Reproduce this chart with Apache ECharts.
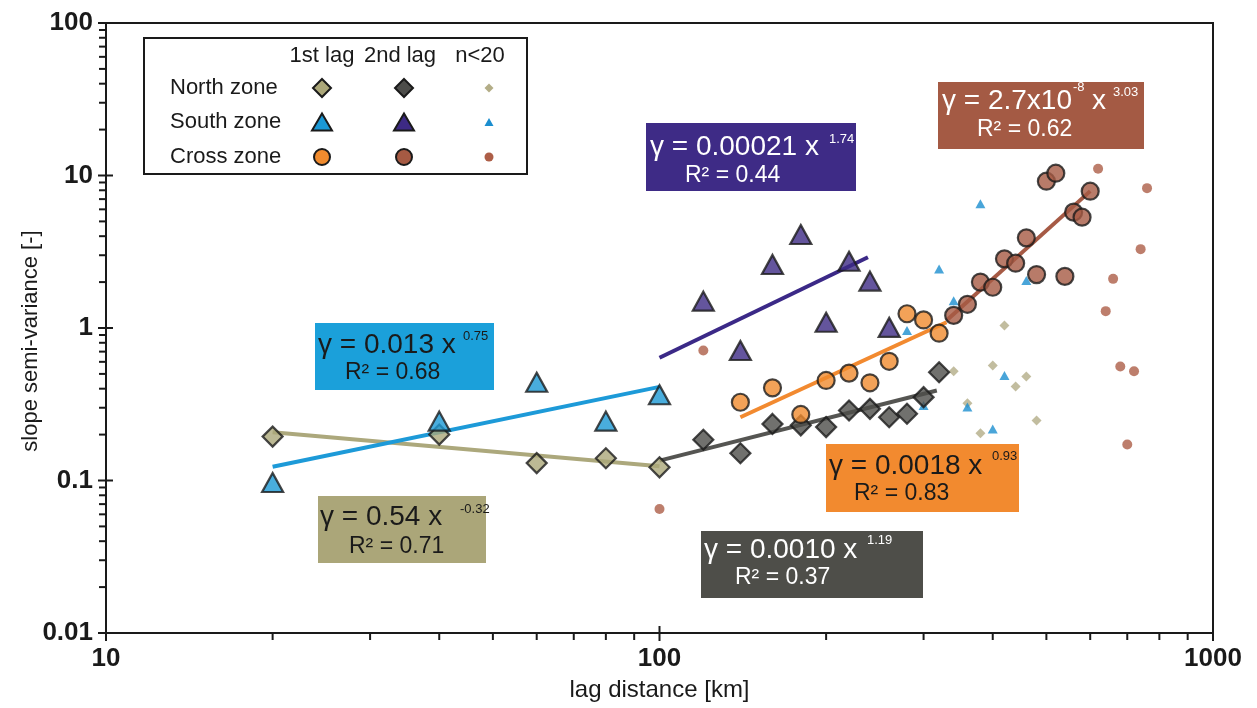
<!DOCTYPE html>
<html>
<head>
<meta charset="utf-8">
<script src="https://cdn.jsdelivr.net/npm/echarts@6/dist/echarts.min.js"></script>
<style>
  html, body { margin: 0; padding: 0; background: #fff; }
  #chart { width: 1257px; height: 708px; }
</style>
</head>
<body>
<div id="chart"></div>
<script>
// ---- semivariance data: lag distance [km] vs slope semi-variance [-] ----
const lagNorth1 = [20, 40, 60, 80, 100];
const semNorth1 = [0.194, 0.20, 0.130, 0.140, 0.122];
const lagSouth1 = [20, 40, 60, 80, 100];
const semSouth1 = [0.097, 0.245, 0.441, 0.245, 0.365];

const lagNorth2 = [120, 140, 160, 180, 200, 220, 240, 260, 280, 300, 320];
const semNorth2 = [0.185, 0.151, 0.235, 0.23, 0.224, 0.288, 0.295, 0.26, 0.274, 0.352, 0.513];
const lagSouth2 = [120, 140, 160, 180, 200, 220, 240, 260];
const semSouth2 = [1.50, 0.712, 2.61, 4.10, 1.09, 2.74, 2.03, 1.01];

const lagCross1 = [140, 160, 180, 200, 220, 240, 260, 280, 300, 320];
const semCross1 = [0.326, 0.405, 0.271, 0.453, 0.506, 0.437, 0.605, 1.24, 1.13, 0.925];
const lagCross2 = [340, 360, 380, 400, 420, 440, 460, 480, 500, 520, 540, 560, 580, 600];
const semCross2 = [1.21, 1.43, 2.0, 1.85, 2.84, 2.66, 3.90, 2.24, 9.18, 10.35, 2.18, 5.75, 5.33, 7.89];

// lags with fewer than 20 pairs
const lagNorthFew = [340, 360, 380, 400, 420, 440, 460, 480];
const semNorthFew = [0.521, 0.321, 0.204, 0.568, 1.04, 0.413, 0.481, 0.247];
const lagSouthFew = [280, 300, 320, 340, 360, 380, 400, 420, 460];
const semSouthFew = [0.963, 0.31, 2.44, 1.51, 0.303, 6.52, 0.218, 0.488, 2.05];
const lagCrossFew = [100, 120, 620, 640, 660, 680, 700, 720, 740, 760];
const semCrossFew = [0.065, 0.712, 11.07, 1.29, 2.10, 0.559, 0.172, 0.521, 3.29, 8.26];

// power-law fit lines (end points)
const fitLagNorth1 = [20, 100],  fitSemNorth1 = [0.207, 0.124];
const fitLagSouth1 = [20, 100],  fitSemSouth1 = [0.123, 0.411];
const fitLagSouth2 = [100, 238], fitSemSouth2 = [0.638, 2.91];
const fitLagNorth2 = [100, 317], fitSemNorth2 = [0.135, 0.389];
const fitLagCross1 = [140, 330], fitSemCross1 = [0.26, 1.09];
const fitLagCross2 = [330, 600], fitSemCross2 = [1.12, 7.9];

// fit equations: lead text, exponent, R²
const eqLead  = ['γ = 0.54 x', 'γ = 0.013 x', 'γ = 0.00021 x', 'γ = 0.0010 x', 'γ = 0.0018 x', 'γ = 2.7x10'];
const eqPower = ['-0.32', '0.75', '1.74', '1.19', '0.93', '3.03'];
const eqR2    = ['R² = 0.71', 'R² = 0.68', 'R² = 0.44', 'R² = 0.37', 'R² = 0.83', 'R² = 0.62'];
const eqTenPower = '-8';

// axis ticks and labels
const xMajorTicks = [10, 100, 1000];
const xTickLabels = ['10', '100', '1000'];
const yMajorTicks = [0.01, 0.1, 1, 10, 100];
const yTickLabels = ['0.01', '0.1', '1', '10', '100'];
const minorSteps = [2, 3, 4, 5, 6, 7, 8, 9];

// legend texts
const legendCols = ['1st lag', '2nd lag', 'n<20'];
const legendRows = ['North zone', 'South zone', 'Cross zone'];

// ---- helpers ----
const FONT = '"Liberation Sans", Arial, Helvetica, sans-serif';
const INK = '#1a1a1a';
const pairs = (xs, ys) => xs.map((x, i) => [x, ys[i]]);

const C = {
  olive: '#aba779', gray: '#4d4d4a', blue: '#1b98d5', purple: '#3d2a84',
  orange: '#f08b2e', brown: '#a65a43',
  oliveFew: '#b3ad87', blueFew: '#1b8ecf', brownFew: '#ad5e47'
};

function scatter(name, xs, ys, symbol, size, color, big) {
  return {
    name, type: 'scatter', data: pairs(xs, ys), symbol, symbolSize: size,
    itemStyle: big ? { color, borderColor: INK, borderWidth: 2.2 } : { color },
    z: big ? 5 : 3, silent: true, animation: false
  };
}
function fit(name, xs, ys, color) {
  return {
    name, type: 'line', data: pairs(xs, ys), symbol: 'none',
    lineStyle: { color, width: 4 }, z: 4, silent: true, animation: false
  };
}

// tick marks through the axis scales: kind 0 x-minor, 1 x-major, 2 y-minor, 3 y-major
const tickData = [];
xMajorTicks.forEach(v => tickData.push([v, 0.01, 1]));
xMajorTicks.slice(0, -1).forEach(d => minorSteps.forEach(m => tickData.push([d * m, 0.01, 0])));
yMajorTicks.forEach(v => tickData.push([10, v, 3]));
yMajorTicks.slice(0, -1).forEach(d => minorSteps.forEach(m => tickData.push([10, d * m, 2])));

const tickSeries = {
  type: 'custom', data: tickData, clip: false, silent: true, animation: false, z: 10,
  encode: { x: 0, y: 1 },
  renderItem(params, api) {
    const k = api.value(2);
    const p = api.coord([api.value(0), api.value(1)]);
    let s;
    if (k === 0) s = { x1: p[0], y1: p[1], x2: p[0], y2: p[1] + 7 };
    else if (k === 1) s = { x1: p[0], y1: p[1] - 7, x2: p[0], y2: p[1] + 8 };
    else if (k === 2) s = { x1: p[0] - 7, y1: p[1], x2: p[0], y2: p[1] };
    else s = { x1: p[0] - 8, y1: p[1], x2: p[0] + 7, y2: p[1] };
    return { type: 'line', shape: s, style: { stroke: INK, lineWidth: 2 } };
  }
};

// equation boxes
function txt(text, x, y, size, color) {
  return { type: 'text', x, y, style: { text, fill: color, font: size + 'px ' + FONT, align: 'left', verticalAlign: 'middle' } };
}
function eqBox(rect, fill, color, parts) {
  return {
    type: 'group', z: 50,
    children: [{ type: 'rect', shape: rect, style: { fill } }].concat(parts.map(p => txt(p[0], p[1], p[2], p[3], color)))
  };
}
const boxes = [
  eqBox({ x: 318, y: 496, width: 168, height: 67 }, '#aba679', INK,
    [[eqLead[0], 320, 517, 28], [eqPower[0], 460, 509, 13], [eqR2[0], 349, 547, 23]]),
  eqBox({ x: 315, y: 323, width: 179, height: 67 }, '#1ba0da', INK,
    [[eqLead[1], 318, 345, 28], [eqPower[1], 463, 336, 13], [eqR2[1], 345, 373, 23]]),
  eqBox({ x: 646, y: 123, width: 210, height: 68 }, '#3e2b86', '#ffffff',
    [[eqLead[2], 650, 147, 28], [eqPower[2], 829, 139, 13], [eqR2[2], 685, 176, 23]]),
  eqBox({ x: 701, y: 531, width: 222, height: 67 }, '#4e4e49', '#ffffff',
    [[eqLead[3], 704, 550, 28], [eqPower[3], 867, 540, 13], [eqR2[3], 735, 578, 23]]),
  eqBox({ x: 826, y: 444, width: 193, height: 68 }, '#f28a2f', INK,
    [[eqLead[4], 829, 466, 28], [eqPower[4], 992, 456, 13], [eqR2[4], 854, 494, 23]]),
  eqBox({ x: 938, y: 82, width: 206, height: 67 }, '#a45a44', '#ffffff',
    [[eqLead[5], 942, 101, 28], [eqTenPower, 1073, 87, 13], ['x', 1092, 101, 28],
     [eqPower[5], 1113, 92, 13], [eqR2[5], 977, 130, 23]])
];

// legend
function diamond(cx, cy, r, fill, stroke) {
  return { type: 'polygon', shape: { points: [[cx, cy - r], [cx + r, cy], [cx, cy + r], [cx - r, cy]] },
    style: { fill, stroke: stroke || null, lineWidth: stroke ? 2 : 0 } };
}
function tri(cx, cy, w, h, fill, stroke) {
  return { type: 'polygon', shape: { points: [[cx, cy - h / 2], [cx + w / 2, cy + h / 2], [cx - w / 2, cy + h / 2]] },
    style: { fill, stroke: stroke || null, lineWidth: stroke ? 2 : 0 } };
}
function dot(cx, cy, r, fill, stroke) {
  return { type: 'circle', shape: { cx, cy, r }, style: { fill, stroke: stroke || null, lineWidth: stroke ? 2 : 0 } };
}
const colX = [322, 404, 489];
const rowY = [88, 122, 157];
const legend = {
  type: 'group', z: 60,
  children: [
    { type: 'rect', shape: { x: 144, y: 38, width: 383, height: 136 }, style: { fill: '#fff', stroke: INK, lineWidth: 2 } },
    ...legendCols.map((t, i) => ({ type: 'text', x: [322, 400, 480][i], y: 56,
      style: { text: t, fill: INK, font: '22px ' + FONT, align: 'center', verticalAlign: 'middle' } })),
    ...legendRows.map((t, i) => ({ type: 'text', x: 170, y: rowY[i],
      style: { text: t, fill: INK, font: '22px ' + FONT, align: 'left', verticalAlign: 'middle' } })),
    diamond(colX[0], rowY[0], 9, C.olive, INK), diamond(colX[1], rowY[0], 9, C.gray, INK), diamond(colX[2], rowY[0], 4.5, C.oliveFew),
    tri(colX[0], rowY[1], 20, 17, C.blue, INK), tri(colX[1], rowY[1], 20, 17, C.purple, INK), tri(colX[2], rowY[1], 9, 8, C.blueFew),
    dot(colX[0], rowY[2], 8, C.orange, INK), dot(colX[1], rowY[2], 8, C.brown, INK), dot(colX[2], rowY[2], 4.5, C.brownFew)
  ]
};

const chart = echarts.init(document.getElementById('chart'), null, { renderer: 'canvas' });
chart.setOption({
  backgroundColor: '#ffffff',
  animation: false,
  grid: { left: 106, right: 44, top: 23, bottom: 75, show: true, borderColor: INK, borderWidth: 2, backgroundColor: 'transparent' },
  xAxis: {
    type: 'log', logBase: 10, min: 10, max: 1000,
    name: 'lag distance [km]', nameLocation: 'middle', nameGap: 45, nameMoveOverlap: false,
    nameTextStyle: { fontFamily: FONT, fontSize: 24, color: INK },
    axisLine: { show: true, lineStyle: { color: INK, width: 2 } },
    axisTick: { show: false }, splitLine: { show: false }, minorTick: { show: false },
    axisLabel: {
      fontFamily: FONT, fontSize: 26, fontWeight: 'bold', color: INK, margin: 13,
      showMinLabel: true, showMaxLabel: true,
      formatter: v => xTickLabels[Math.round(Math.log10(v)) - 1]
    }
  },
  yAxis: {
    type: 'log', logBase: 10, min: 0.01, max: 100,
    name: 'slope semi-variance [-]', nameLocation: 'middle', nameGap: 64, nameRotate: 90, nameMoveOverlap: false,
    nameTextStyle: { fontFamily: FONT, fontSize: 22, color: INK, padding: [0, 26, 0, 0] },
    axisLine: { show: true, lineStyle: { color: INK, width: 2 } },
    axisTick: { show: false }, splitLine: { show: false }, minorTick: { show: false },
    axisLabel: {
      fontFamily: FONT, fontSize: 26, fontWeight: 'bold', color: INK, margin: 13,
      showMinLabel: true, showMaxLabel: true,
      formatter: v => yTickLabels[Math.round(Math.log10(v)) + 2]
    }
  },
  series: [
    fit('North 1st fit', fitLagNorth1, fitSemNorth1, '#aca87c'),
    fit('South 1st fit', fitLagSouth1, fitSemSouth1, '#1d9ad8'),
    fit('South 2nd fit', fitLagSouth2, fitSemSouth2, '#3b2987'),
    fit('North 2nd fit', fitLagNorth2, fitSemNorth2, '#555552'),
    fit('Cross 1st fit', fitLagCross1, fitSemCross1, '#f28a30'),
    fit('Cross 2nd fit', fitLagCross2, fitSemCross2, '#a65a45'),
    scatter('North n<20', lagNorthFew, semNorthFew, 'diamond', 10, C.oliveFew, false),
    scatter('South n<20', lagSouthFew, semSouthFew, 'triangle', [10, 9], C.blueFew, false),
    scatter('Cross n<20', lagCrossFew, semCrossFew, 'circle', 10, C.brownFew, false),
    scatter('North 1st lag', lagNorth1, semNorth1, 'diamond', 20, C.olive, true),
    scatter('South 1st lag', lagSouth1, semSouth1, 'triangle', [21, 19], C.blue, true),
    scatter('North 2nd lag', lagNorth2, semNorth2, 'diamond', 20, C.gray, true),
    scatter('South 2nd lag', lagSouth2, semSouth2, 'triangle', [21, 19], C.purple, true),
    scatter('Cross 1st lag', lagCross1, semCross1, 'circle', 17, C.orange, true),
    scatter('Cross 2nd lag', lagCross2, semCross2, 'circle', 17, C.brown, true),
    tickSeries
  ],
  graphic: boxes.concat([legend])
});
</script>
</body>
</html>
